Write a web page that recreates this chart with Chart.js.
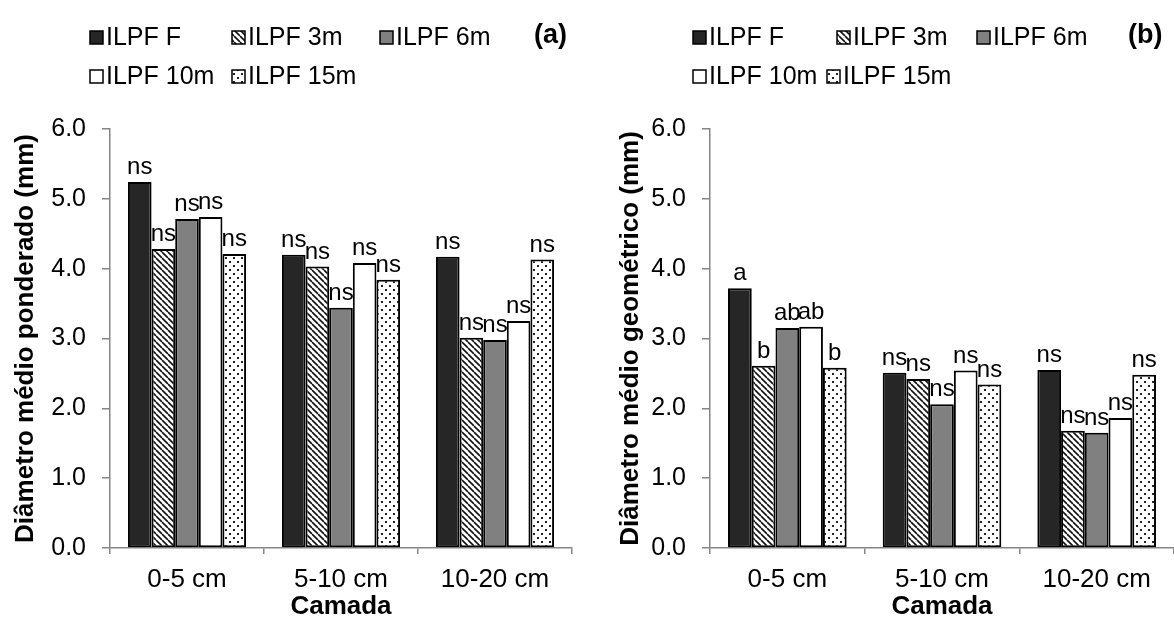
<!DOCTYPE html>
<html>
<head>
<meta charset="utf-8">
<script src="https://cdn.jsdelivr.net/npm/chart.js@4.4.0/dist/chart.umd.min.js"></script>
<style>
body { margin: 0; background: #fff; }
#wrap { position: relative; width: 1174px; height: 630px; }
#chartA { position: absolute; left: 0; top: 0; }
#chartB { position: absolute; left: 587px; top: 0; }
</style>
</head>
<body>
<div id="wrap">
  <canvas id="chartA" width="587" height="630"></canvas>
  <canvas id="chartB" width="587" height="630"></canvas>
</div>
<script>
const camadas = ['0-5 cm', '5-10 cm', '10-20 cm'];
const tratamentos = ['ILPF F', 'ILPF 3m', 'ILPF 6m', 'ILPF 10m', 'ILPF 15m'];
const yTicks = [0, 1, 2, 3, 4, 5, 6];

// (a) diametro medio ponderado
const dmpF = [5.24, 4.20, 4.17];
const dmp3m = [4.28, 4.03, 3.01];
const dmp6m = [4.71, 3.44, 2.98];
const dmp10m = [4.74, 4.08, 3.25];
const dmp15m = [4.21, 3.84, 4.13];
const letrasDmp = [
    ['ns', 'ns', 'ns'],
    ['ns', 'ns', 'ns'],
    ['ns', 'ns', 'ns'],
    ['ns', 'ns', 'ns'],
    ['ns', 'ns', 'ns']
];

// (b) diametro medio geometrico
const dmgF = [3.72, 2.51, 2.55];
const dmg3m = [2.61, 2.42, 1.68];
const dmg6m = [3.15, 2.06, 1.65];
const dmg10m = [3.17, 2.54, 1.86];
const dmg15m = [2.58, 2.34, 2.48];
const letrasDmg = [
    ['a', 'ns', 'ns'],
    ['b', 'ns', 'ns'],
    ['ab', 'ns', 'ns'],
    ['ab', 'ns', 'ns'],
    ['b', 'ns', 'ns']
];

const fonte = '"Liberation Sans", Arial, sans-serif';

function listras() {
    const c = document.createElement('canvas');
    c.width = 6; c.height = 6;
    const g = c.getContext('2d');
    g.fillStyle = '#fff';
    g.fillRect(0, 0, 6, 6);
    g.strokeStyle = '#111';
    g.lineWidth = 1.6;
    g.beginPath();
    for (let x = -6; x <= 6; x += 6) {
        g.moveTo(x, 0);
        g.lineTo(x + 6, 6);
    }
    g.stroke();
    return g.createPattern(c, 'repeat');
}

function pontos() {
    const c = document.createElement('canvas');
    c.width = 8; c.height = 8;
    const g = c.getContext('2d');
    g.fillStyle = '#fff';
    g.fillRect(0, 0, 8, 8);
    g.fillStyle = '#222';
    g.fillRect(1, 1, 2, 2);
    g.fillRect(5, 5, 2, 2);
    return g.createPattern(c, 'repeat');
}

const cores = ['#262626', listras(), '#808080', '#ffffff', pontos()];

// rotulos de significancia acima das barras
const rotulos = {
    id: 'rotulos',
    afterDatasetsDraw(chart, args, opts) {
        const ctx = chart.ctx;
        ctx.save();
        ctx.font = '24px ' + fonte;
        ctx.fillStyle = '#000';
        ctx.textAlign = 'center';
        ctx.textBaseline = 'alphabetic';
        chart.data.datasets.forEach((ds, i) => {
            chart.getDatasetMeta(i).data.forEach((bar, j) => {
                ctx.fillText(opts.letras[i][j], bar.x, bar.y - 8);
            });
        });
        ctx.restore();
    }
};

// legenda em duas linhas, como no Excel
const legenda = {
    id: 'legenda',
    afterDraw(chart, args, opts) {
        const ctx = chart.ctx;
        ctx.save();
        ctx.font = '25px ' + fonte;
        ctx.textBaseline = 'middle';
        ctx.textAlign = 'left';
        chart.data.datasets.forEach((ds, i) => {
            const [x, y] = opts.pos[i];
            ctx.fillStyle = ds.backgroundColor;
            ctx.fillRect(x, y - 6, 13, 13);
            ctx.strokeStyle = '#000';
            ctx.lineWidth = 1.5;
            ctx.strokeRect(x, y - 6, 13, 13);
            ctx.fillStyle = '#000';
            ctx.fillText(ds.label, x + 16, y + 1);
        });
        ctx.font = 'bold 27px ' + fonte;
        ctx.fillText(opts.tag, opts.tagPos[0], opts.tagPos[1]);
        ctx.restore();
    }
};

function montar(id, series, letras, tituloY, pad, larguraY, leg) {
    const datasets = series.map((dados, i) => ({
        label: tratamentos[i],
        data: dados,
        backgroundColor: cores[i],
        borderColor: '#000',
        borderWidth: 2,
        borderSkipped: false,
        categoryPercentage: 0.767,
        barPercentage: 1
    }));
    return new Chart(document.getElementById(id), {
        type: 'bar',
        data: { labels: camadas, datasets },
        plugins: [rotulos, legenda],
        options: {
            responsive: false,
            animation: false,
            layout: { padding: pad },
            plugins: {
                legend: { display: false },
                tooltip: { enabled: false },
                rotulos: { letras },
                legenda: leg
            },
            scales: {
                x: {
                    grid: { drawOnChartArea: false, tickLength: 6, color: '#868686', lineWidth: 1.5 },
                    border: { color: '#868686', width: 1.5 },
                    ticks: { color: '#000', padding: 10, font: { family: fonte, size: 26 } },
                    title: { display: true, text: 'Camada', color: '#000', padding: 4,
                        font: { family: fonte, size: 26, weight: 'bold' } },
                    afterFit(s) { s.height = 630 - pad.bottom - 548; }
                },
                y: {
                    min: 0,
                    max: 6,
                    afterBuildTicks(s) { s.ticks = yTicks.map(v => ({ value: v })); },
                    grid: { drawOnChartArea: false, tickLength: 8, color: '#868686', lineWidth: 1.5 },
                    border: { color: '#868686', width: 1.5 },
                    ticks: { color: '#000', padding: 16, font: { family: fonte, size: 25 },
                        callback: v => v.toFixed(1) },
                    title: { display: true, text: tituloY, color: '#000', padding: 4,
                        font: { family: fonte, size: 26, weight: 'bold' } },
                    afterFit(s) { s.width = larguraY; }
                }
            }
        }
    });
}

montar('chartA', [dmpF, dmp3m, dmp6m, dmp10m, dmp15m], letrasDmp,
    'Diâmetro médio ponderado (mm)',
    { left: 6, right: 15, top: 129, bottom: 4 }, 104,
    { pos: [[90, 37], [232, 37], [380, 37], [90, 76], [232, 76]], tag: '(a)', tagPos: [534, 36] });

montar('chartB', [dmgF, dmg3m, dmg6m, dmg10m, dmg15m], letrasDmg,
    'Diâmetro médio geométrico (mm)',
    { left: 24, right: 0, top: 129, bottom: 4 }, 99,
    { pos: [[106, 37], [250, 37], [390, 37], [106, 76], [240, 76]], tag: '(b)', tagPos: [541, 36] });
</script>
</body>
</html>
